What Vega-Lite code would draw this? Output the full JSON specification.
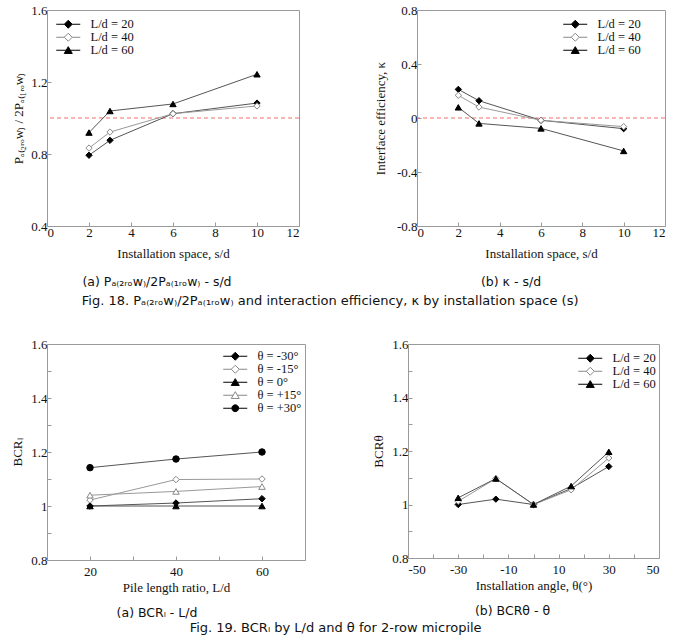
{
  "$schema": "https://vega.github.io/schema/vega-lite/v6.json",
  "background": "white",
  "padding": {"left": 11, "top": 3, "right": 4, "bottom": 0},
  "spacing": 29,
  "config": {
    "view": {"stroke": "#9a9a9a", "strokeWidth": 1},
    "axis": {
      "grid": false,
      "domainColor": "#9a9a9a",
      "tickColor": "#9a9a9a",
      "tickSize": -4,
      "labelPadding": 4,
      "labelFont": "Liberation Serif",
      "labelFontSize": 13,
      "labelColor": "#111",
      "titleFont": "Liberation Serif",
      "titleFontSize": 13,
      "titleFontWeight": "normal",
      "titleColor": "#111",
      "titlePadding": 5
    },
    "legend": {
      "title": null,
      "labelFont": "Liberation Serif",
      "labelFontSize": 12.5,
      "labelColor": "#111",
      "symbolSize": 64,
      "symbolStrokeWidth": 1,
      "labelOffset": 16,
      "rowPadding": -1,
      "padding": 0
    },
    "title": {"font": "DejaVu Sans", "fontSize": 12.5, "fontWeight": "normal", "color": "#111"}
  },
  "datasets": {
    "spacing": [
      {"s_d": 2, "series": "L/d = 20", "ratio": 0.793, "kappa": 0.212},
      {"s_d": 3, "series": "L/d = 20", "ratio": 0.876, "kappa": 0.128},
      {"s_d": 6, "series": "L/d = 20", "ratio": 1.024, "kappa": -0.017},
      {"s_d": 10, "series": "L/d = 20", "ratio": 1.083, "kappa": -0.079},
      {"s_d": 2, "series": "L/d = 40", "ratio": 0.833, "kappa": 0.168},
      {"s_d": 3, "series": "L/d = 40", "ratio": 0.922, "kappa": 0.081},
      {"s_d": 6, "series": "L/d = 40", "ratio": 1.024, "kappa": -0.017},
      {"s_d": 10, "series": "L/d = 40", "ratio": 1.067, "kappa": -0.064},
      {"s_d": 2, "series": "L/d = 60", "ratio": 0.919, "kappa": 0.079},
      {"s_d": 3, "series": "L/d = 60", "ratio": 1.039, "kappa": -0.04},
      {"s_d": 6, "series": "L/d = 60", "ratio": 1.078, "kappa": -0.077},
      {"s_d": 10, "series": "L/d = 60", "ratio": 1.243, "kappa": -0.244}
    ],
    "length": [
      {"l_d": 20, "series": "θ = -30°", "bcr": 1.0},
      {"l_d": 40, "series": "θ = -30°", "bcr": 1.011},
      {"l_d": 60, "series": "θ = -30°", "bcr": 1.027},
      {"l_d": 20, "series": "θ = -15°", "bcr": 1.022},
      {"l_d": 40, "series": "θ = -15°", "bcr": 1.098},
      {"l_d": 60, "series": "θ = -15°", "bcr": 1.1},
      {"l_d": 20, "series": "θ = 0°", "bcr": 1.0},
      {"l_d": 40, "series": "θ = 0°", "bcr": 1.0},
      {"l_d": 60, "series": "θ = 0°", "bcr": 1.0},
      {"l_d": 20, "series": "θ = +15°", "bcr": 1.04},
      {"l_d": 40, "series": "θ = +15°", "bcr": 1.054},
      {"l_d": 60, "series": "θ = +15°", "bcr": 1.072},
      {"l_d": 20, "series": "θ = +30°", "bcr": 1.142},
      {"l_d": 40, "series": "θ = +30°", "bcr": 1.174},
      {"l_d": 60, "series": "θ = +30°", "bcr": 1.2}
    ],
    "angle": [
      {"theta": -30, "series": "L/d = 20", "bcr": 1.0},
      {"theta": -15, "series": "L/d = 20", "bcr": 1.02},
      {"theta": 0, "series": "L/d = 20", "bcr": 1.0},
      {"theta": 15, "series": "L/d = 20", "bcr": 1.06},
      {"theta": 30, "series": "L/d = 20", "bcr": 1.142},
      {"theta": -30, "series": "L/d = 40", "bcr": 1.012},
      {"theta": -15, "series": "L/d = 40", "bcr": 1.097},
      {"theta": 0, "series": "L/d = 40", "bcr": 1.0},
      {"theta": 15, "series": "L/d = 40", "bcr": 1.055},
      {"theta": 30, "series": "L/d = 40", "bcr": 1.174},
      {"theta": -30, "series": "L/d = 60", "bcr": 1.025},
      {"theta": -15, "series": "L/d = 60", "bcr": 1.097},
      {"theta": 0, "series": "L/d = 60", "bcr": 1.0},
      {"theta": 15, "series": "L/d = 60", "bcr": 1.069},
      {"theta": 30, "series": "L/d = 60", "bcr": 1.197}
    ]
  },
  "vconcat": [
    {
      "spacing": 73,
      "title": {"text": "Fig. 18.  Pₐ₍₂ᵣₒw₎/2Pₐ₍₁ᵣₒw₎  and interaction efficiency, κ  by installation space (s)", "orient": "bottom", "anchor": "middle", "offset": 6, "dx": -9, "fontSize": 13},
      "hconcat": [
        {
          "width": 252, "height": 216,
          "title": {"text": "(a)  Pₐ₍₂ᵣₒw₎/2Pₐ₍₁ᵣₒw₎ - s/d", "orient": "bottom", "dx": -16, "offset": 16},
          "layer": [
            {
              "data": {"values": [{"ref": 1}]},
              "mark": {"type": "rule", "color": "#ef6f6f", "strokeWidth": 1, "strokeDash": [4, 3]},
              "encoding": {"y": {"field": "ref", "type": "quantitative", "scale": {"domain": [0.4, 1.6]}}}
            },
            {
              "data": {"name": "spacing"},
              "encoding": {
                "x": {"field": "s_d", "type": "quantitative", "scale": {"domain": [0, 12]}, "axis": {"title": "Installation space, s/d", "titlePadding": 8, "values": [0, 2, 4, 6, 8, 10, 12]}},
                "y": {"field": "ratio", "type": "quantitative", "scale": {"domain": [0.4, 1.6]}, "axis": {"title": "Pₐ₍₂ᵣₒw₎ / 2Pₐ₍₁ᵣₒw₎", "titlePadding": 5, "values": [0.4, 0.6, 0.8, 1, 1.2, 1.4, 1.6], "labelExpr": "indexof([0.4, 0.8, 1.2, 1.6], datum.value) >= 0 ? '' + datum.value : ''"}}
              },
              "layer": [
                {
                  "mark": {"type": "line", "strokeWidth": 1},
                  "encoding": {"stroke": {"field": "series", "type": "nominal", "scale": {"domain": ["L/d = 20", "L/d = 40", "L/d = 60"], "range": ["#555", "#999", "#555"]}, "legend": null}}
                },
                {
                  "mark": {"type": "point", "filled": true, "size": 40, "strokeWidth": 1, "opacity": 1},
                  "encoding": {
                    "shape": {"field": "series", "type": "nominal", "scale": {"domain": ["L/d = 20", "L/d = 40", "L/d = 60"], "range": ["diamond", "diamond", "triangle-up"]}, "legend": null},
                    "fill": {"field": "series", "type": "nominal", "scale": {"domain": ["L/d = 20", "L/d = 40", "L/d = 60"], "range": ["#000", "#fff", "#000"]}, "legend": null},
                    "stroke": {"field": "series", "type": "nominal", "scale": {"domain": ["L/d = 20", "L/d = 40", "L/d = 60"], "range": ["#000", "#888", "#000"]}, "legend": null}
                  }
                },
                {
                  "transform": [{"filter": "false"}],
                  "mark": {"type": "point", "filled": true, "strokeWidth": 1, "opacity": 1},
                  "encoding": {
                    "shape": {"field": "series", "type": "nominal", "scale": {"domain": ["L/d = 20", "L/d = 40", "L/d = 60"], "range": ["M-3,0L-1,0M1,0L3,0M0,-1L1,0L0,1L-1,0Z", "M-3,0L-1,0M1,0L3,0M0,-1L1,0L0,1L-1,0Z", "M-3,0L-0.53,0M0.53,0L3,0M0,-0.9L1,0.8L-1,0.8Z"]}, "legend": {"orient": "none", "legendX": 15, "legendY": 8}},
                    "fill": {"field": "series", "type": "nominal", "scale": {"domain": ["L/d = 20", "L/d = 40", "L/d = 60"], "range": ["#000", "#fff", "#000"]}, "legend": {"orient": "none", "legendX": 15, "legendY": 8}},
                    "stroke": {"field": "series", "type": "nominal", "scale": {"domain": ["L/d = 20", "L/d = 40", "L/d = 60"], "range": ["#000", "#888", "#000"]}, "legend": {"orient": "none", "legendX": 15, "legendY": 8}}
                  }
                }
              ],
              "resolve": {"scale": {"shape": "independent", "fill": "independent", "stroke": "independent"}}
            }
          ]
        },
        {
          "width": 248, "height": 216,
          "title": {"text": "(b)  κ  -  s/d", "orient": "bottom", "dx": -30, "offset": 16},
          "layer": [
            {
              "data": {"values": [{"ref": 0}]},
              "mark": {"type": "rule", "color": "#ef6f6f", "strokeWidth": 1, "strokeDash": [4, 3]},
              "encoding": {"y": {"field": "ref", "type": "quantitative", "scale": {"domain": [-0.8, 0.8]}}}
            },
            {
              "data": {"name": "spacing"},
              "encoding": {
                "x": {"field": "s_d", "type": "quantitative", "scale": {"domain": [0, 12]}, "axis": {"title": "Installation space, s/d", "titlePadding": 8, "values": [0, 2, 4, 6, 8, 10, 12]}},
                "y": {"field": "kappa", "type": "quantitative", "scale": {"domain": [-0.8, 0.8]}, "axis": {"title": "Interface efficiency, κ", "titlePadding": 9, "values": [-0.8, -0.6, -0.4, -0.2, 0, 0.2, 0.4, 0.6, 0.8], "labelExpr": "indexof([-0.8, -0.4, 0, 0.4, 0.8], datum.value) >= 0 ? '' + datum.value : ''"}}
              },
              "layer": [
                {
                  "mark": {"type": "line", "strokeWidth": 1},
                  "encoding": {"stroke": {"field": "series", "type": "nominal", "scale": {"domain": ["L/d = 20", "L/d = 40", "L/d = 60"], "range": ["#555", "#999", "#555"]}, "legend": null}}
                },
                {
                  "mark": {"type": "point", "filled": true, "size": 40, "strokeWidth": 1, "opacity": 1},
                  "encoding": {
                    "shape": {"field": "series", "type": "nominal", "scale": {"domain": ["L/d = 20", "L/d = 40", "L/d = 60"], "range": ["diamond", "diamond", "triangle-up"]}, "legend": null},
                    "fill": {"field": "series", "type": "nominal", "scale": {"domain": ["L/d = 20", "L/d = 40", "L/d = 60"], "range": ["#000", "#fff", "#000"]}, "legend": null},
                    "stroke": {"field": "series", "type": "nominal", "scale": {"domain": ["L/d = 20", "L/d = 40", "L/d = 60"], "range": ["#000", "#888", "#000"]}, "legend": null}
                  }
                },
                {
                  "transform": [{"filter": "false"}],
                  "mark": {"type": "point", "filled": true, "strokeWidth": 1, "opacity": 1},
                  "encoding": {
                    "shape": {"field": "series", "type": "nominal", "scale": {"domain": ["L/d = 20", "L/d = 40", "L/d = 60"], "range": ["M-3,0L-1,0M1,0L3,0M0,-1L1,0L0,1L-1,0Z", "M-3,0L-1,0M1,0L3,0M0,-1L1,0L0,1L-1,0Z", "M-3,0L-0.53,0M0.53,0L3,0M0,-0.9L1,0.8L-1,0.8Z"]}, "legend": {"orient": "none", "legendX": 152, "legendY": 8}},
                    "fill": {"field": "series", "type": "nominal", "scale": {"domain": ["L/d = 20", "L/d = 40", "L/d = 60"], "range": ["#000", "#fff", "#000"]}, "legend": {"orient": "none", "legendX": 152, "legendY": 8}},
                    "stroke": {"field": "series", "type": "nominal", "scale": {"domain": ["L/d = 20", "L/d = 40", "L/d = 60"], "range": ["#000", "#888", "#000"]}, "legend": {"orient": "none", "legendX": 152, "legendY": 8}}
                  }
                }
              ],
              "resolve": {"scale": {"shape": "independent", "fill": "independent", "stroke": "independent"}}
            }
          ]
        }
      ]
    },
    {
      "spacing": 66,
      "title": {"text": "Fig. 19.  BCRₗ by L/d and θ for 2-row micropile", "orient": "bottom", "anchor": "middle", "offset": 2, "fontSize": 13},
      "hconcat": [
        {
          "width": 258, "height": 216,
          "title": {"text": "(a)  BCRₗ  -  L/d", "orient": "bottom", "dx": -19, "offset": 13},
          "data": {"name": "length"},
          "encoding": {
            "x": {"field": "l_d", "type": "quantitative", "scale": {"domain": [10, 70]}, "axis": {"title": "Pile length ratio, L/d", "labelPadding": 9, "titlePadding": 3, "values": [10, 20, 30, 40, 50, 60, 70], "labelExpr": "indexof([20, 40, 60], datum.value) >= 0 ? '' + datum.value : ''"}},
            "y": {"field": "bcr", "type": "quantitative", "scale": {"domain": [0.8, 1.6]}, "axis": {"title": "BCRₗ", "titlePadding": 6, "values": [0.8, 0.9, 1, 1.1, 1.2, 1.3, 1.4, 1.5, 1.6], "labelExpr": "indexof([0.8, 1, 1.2, 1.4, 1.6], datum.value) >= 0 ? '' + datum.value : ''"}}
          },
          "layer": [
            {
              "mark": {"type": "line", "strokeWidth": 1},
              "encoding": {"stroke": {"field": "series", "type": "nominal", "scale": {"domain": ["θ = -30°", "θ = -15°", "θ = 0°", "θ = +15°", "θ = +30°"], "range": ["#555", "#999", "#555", "#999", "#555"]}, "legend": null}}
            },
            {
              "mark": {"type": "point", "filled": true, "size": 42, "strokeWidth": 1, "opacity": 1},
              "encoding": {
                "shape": {"field": "series", "type": "nominal", "scale": {"domain": ["θ = -30°", "θ = -15°", "θ = 0°", "θ = +15°", "θ = +30°"], "range": ["diamond", "diamond", "triangle-up", "triangle-up", "circle"]}, "legend": null},
                "fill": {"field": "series", "type": "nominal", "scale": {"domain": ["θ = -30°", "θ = -15°", "θ = 0°", "θ = +15°", "θ = +30°"], "range": ["#000", "#fff", "#000", "#fff", "#000"]}, "legend": null},
                "stroke": {"field": "series", "type": "nominal", "scale": {"domain": ["θ = -30°", "θ = -15°", "θ = 0°", "θ = +15°", "θ = +30°"], "range": ["#000", "#888", "#000", "#888", "#000"]}, "legend": null}
              }
            },
            {
              "transform": [{"filter": "false"}],
              "mark": {"type": "point", "filled": true, "strokeWidth": 1, "opacity": 1},
              "encoding": {
                "shape": {"field": "series", "type": "nominal", "scale": {"domain": ["θ = -30°", "θ = -15°", "θ = 0°", "θ = +15°", "θ = +30°"], "range": ["M-3,0L-1,0M1,0L3,0M0,-1L1,0L0,1L-1,0Z", "M-3,0L-1,0M1,0L3,0M0,-1L1,0L0,1L-1,0Z", "M-3,0L-0.53,0M0.53,0L3,0M0,-0.9L1,0.8L-1,0.8Z", "M-3,0L-0.53,0M0.53,0L3,0M0,-0.9L1,0.8L-1,0.8Z", "M-3,0L-0.85,0M0.85,0L3,0M0.85,0A0.85,0.85,0,1,1,-0.85,0A0.85,0.85,0,1,1,0.85,0Z"]}, "legend": {"orient": "none", "legendX": 182, "legendY": 6}},
                "fill": {"field": "series", "type": "nominal", "scale": {"domain": ["θ = -30°", "θ = -15°", "θ = 0°", "θ = +15°", "θ = +30°"], "range": ["#000", "#fff", "#000", "#fff", "#000"]}, "legend": {"orient": "none", "legendX": 182, "legendY": 6}},
                "stroke": {"field": "series", "type": "nominal", "scale": {"domain": ["θ = -30°", "θ = -15°", "θ = 0°", "θ = +15°", "θ = +30°"], "range": ["#000", "#888", "#000", "#888", "#000"]}, "legend": {"orient": "none", "legendX": 182, "legendY": 6}}
              }
            }
          ],
          "resolve": {"scale": {"shape": "independent", "fill": "independent", "stroke": "independent"}}
        },
        {
          "width": 251, "height": 214,
          "title": {"text": "(b)  BCRθ  -  θ", "orient": "bottom", "dx": -21, "offset": 13},
          "data": {"name": "angle"},
          "encoding": {
            "x": {"field": "theta", "type": "quantitative", "scale": {"domain": [-50, 50]}, "axis": {"title": "Installation angle, θ(°)", "labelPadding": 9, "titlePadding": 3, "values": [-50, -40, -30, -20, -10, 0, 10, 20, 30, 40, 50], "labelExpr": "indexof([-50, -30, -10, 10, 30, 50], datum.value) >= 0 ? '' + datum.value : ''"}},
            "y": {"field": "bcr", "type": "quantitative", "scale": {"domain": [0.8, 1.6]}, "axis": {"title": "BCRθ", "titlePadding": 6, "values": [0.8, 0.9, 1, 1.1, 1.2, 1.3, 1.4, 1.5, 1.6], "labelExpr": "indexof([0.8, 1, 1.2, 1.4, 1.6], datum.value) >= 0 ? '' + datum.value : ''"}}
          },
          "layer": [
            {
              "mark": {"type": "line", "strokeWidth": 1},
              "encoding": {"stroke": {"field": "series", "type": "nominal", "scale": {"domain": ["L/d = 20", "L/d = 40", "L/d = 60"], "range": ["#555", "#999", "#555"]}, "legend": null}}
            },
            {
              "mark": {"type": "point", "filled": true, "size": 40, "strokeWidth": 1, "opacity": 1},
              "encoding": {
                "shape": {"field": "series", "type": "nominal", "scale": {"domain": ["L/d = 20", "L/d = 40", "L/d = 60"], "range": ["diamond", "diamond", "triangle-up"]}, "legend": null},
                "fill": {"field": "series", "type": "nominal", "scale": {"domain": ["L/d = 20", "L/d = 40", "L/d = 60"], "range": ["#000", "#fff", "#000"]}, "legend": null},
                "stroke": {"field": "series", "type": "nominal", "scale": {"domain": ["L/d = 20", "L/d = 40", "L/d = 60"], "range": ["#000", "#888", "#000"]}, "legend": null}
              }
            },
            {
              "transform": [{"filter": "false"}],
              "mark": {"type": "point", "filled": true, "strokeWidth": 1, "opacity": 1},
              "encoding": {
                "shape": {"field": "series", "type": "nominal", "scale": {"domain": ["L/d = 20", "L/d = 40", "L/d = 60"], "range": ["M-3,0L-1,0M1,0L3,0M0,-1L1,0L0,1L-1,0Z", "M-3,0L-1,0M1,0L3,0M0,-1L1,0L0,1L-1,0Z", "M-3,0L-0.53,0M0.53,0L3,0M0,-0.9L1,0.8L-1,0.8Z"]}, "legend": {"orient": "none", "legendX": 176, "legendY": 8}},
                "fill": {"field": "series", "type": "nominal", "scale": {"domain": ["L/d = 20", "L/d = 40", "L/d = 60"], "range": ["#000", "#fff", "#000"]}, "legend": {"orient": "none", "legendX": 176, "legendY": 8}},
                "stroke": {"field": "series", "type": "nominal", "scale": {"domain": ["L/d = 20", "L/d = 40", "L/d = 60"], "range": ["#000", "#888", "#000"]}, "legend": {"orient": "none", "legendX": 176, "legendY": 8}}
              }
            }
          ],
          "resolve": {"scale": {"shape": "independent", "fill": "independent", "stroke": "independent"}}
        }
      ]
    }
  ]
}
